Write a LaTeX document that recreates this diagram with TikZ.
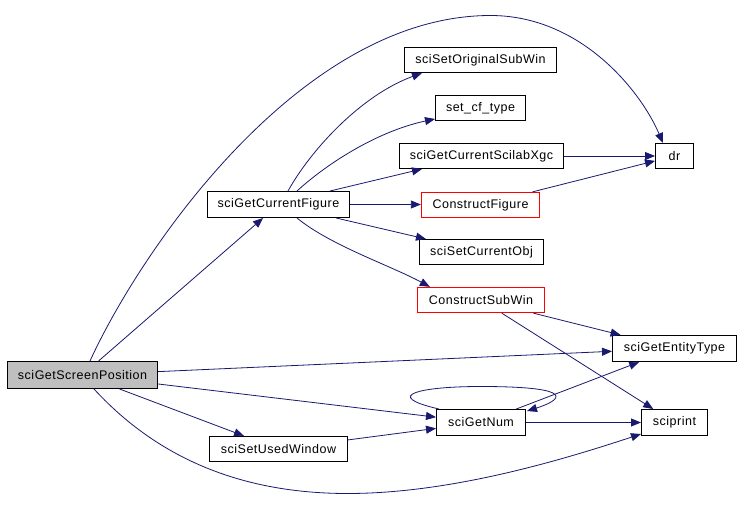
\documentclass[tikz,border=0pt]{standalone}
\usepackage{fontspec}
\setmainfont{Liberation Sans}[LetterSpace=4]
\usetikzlibrary{arrows.meta,calc}
\definecolor{edgeblue}{HTML}{191970}
\definecolor{boxgray}{HTML}{BFBFBF}
\definecolor{boxred}{HTML}{FF0000}
\tikzset{
  fn/.style={draw=black, line width=1bp, fill=white, inner sep=0pt, font=\fontsize{12.5bp}{14bp}\selectfont, text=black},
  redfn/.style={fn, draw=boxred, line width=1.3bp},
  mainfn/.style={fn, fill=boxgray},
  call/.style={draw=edgeblue, line width=0.8bp, -{Triangle[length=10bp,width=8bp]}, edgeblue},
}
\begin{document}
\begin{tikzpicture}[x=1bp,y=-1bp]
\useasboundingbox[fill=white] (-0.5,-0.5) rectangle (740.5,526.5);
\node[mainfn, minimum width=150bp, minimum height=27bp] (sp) at (82,374.5) {sciGetScreenPosition};
\node[fn, minimum width=142bp, minimum height=26bp] (gcf) at (278,204) {sciGetCurrentFigure};
\node[fn, minimum width=152bp, minimum height=25bp] (sosw) at (480,59.5) {sciSetOriginalSubWin};
\node[fn, minimum width=90bp, minimum height=25bp] (scf) at (480,107.5) {set\_cf\_type};
\node[fn, minimum width=164bp, minimum height=25bp] (xgc) at (481,155.5) {sciGetCurrentScilabXgc};
\node[fn, minimum width=38bp, minimum height=25bp] (dr) at (674,155.5) {dr};
\node[redfn, minimum width=118bp, minimum height=25bp] (cfig) at (480,204.5) {ConstructFigure};
\node[fn, minimum width=124bp, minimum height=25bp] (sco) at (481,251.5) {sciSetCurrentObj};
\node[redfn, minimum width=127bp, minimum height=25bp] (csw) at (480.5,299.5) {ConstructSubWin};
\node[fn, minimum width=124bp, minimum height=26bp] (sge) at (674,348) {sciGetEntityType};
\node[fn, minimum width=89bp, minimum height=26bp] (gn) at (480.5,422) {sciGetNum};
\node[fn, minimum width=66bp, minimum height=26bp] (spr) at (674,422) {sciprint};
\node[fn, minimum width=138bp, minimum height=25bp] (suw) at (278,448.5) {sciSetUsedWindow};

% straight calls
\draw[call] (sp) -- (gcf);
\draw[call] (sp) -- (sge);
\draw[call] (sp) -- (gn);
\draw[call] (sp) -- (suw);
\draw[call] (gcf) -- (gcf -| cfig.west);
\draw[call] (gcf) -- (sco);
\draw[call] ($(gcf.north west)+(123,0)$) -- ($(xgc.south west)+(23,0)$);
\draw[call] (xgc) -- (dr);
\draw[call] (cfig) -- (dr);
\draw[call] (csw) -- (sge);
\draw[call] (csw) -- (spr);
\draw[call] (gn) -- (sge);
\draw[call] (gn) -- (spr);
\draw[call] (suw) -- (gn);

% curved calls
\draw[call] ($(sp.north west)+(83,0)$) .. controls (140,250) and (300,15) .. (490,15)
  .. controls (580,15) and (640,90) .. ($(dr.north west)+(8,0)$);
\draw[call] ($(sp.south west)+(87,0)$) .. controls (150,450) and (230,493) .. (347,493)
  .. controls (450,493) and (560,460) .. ($(spr.south west)+(0,-2)$);
\draw[call] ($(gcf.north west)+(81,0)$) .. controls (310,150) and (360,95) .. ($(sosw.south west)+(18,0)$);
\draw[call] ($(gcf.north west)+(90,0)$) .. controls (330,160) and (380,130) .. ($(scf.south west)+(0,-2)$);
\draw[call] ($(gcf.south west)+(90,0)$) .. controls (330,245) and (390,265) .. ($(csw.north west)+(13,0)$);
\draw[call] ($(gn.north west)+(3,0)$) .. controls (380,395) and (420,386) .. (480,386)
  .. controls (580,386) and (560,400) .. ($(gn.north east)+(1,2)$);
\end{tikzpicture}
\end{document}
